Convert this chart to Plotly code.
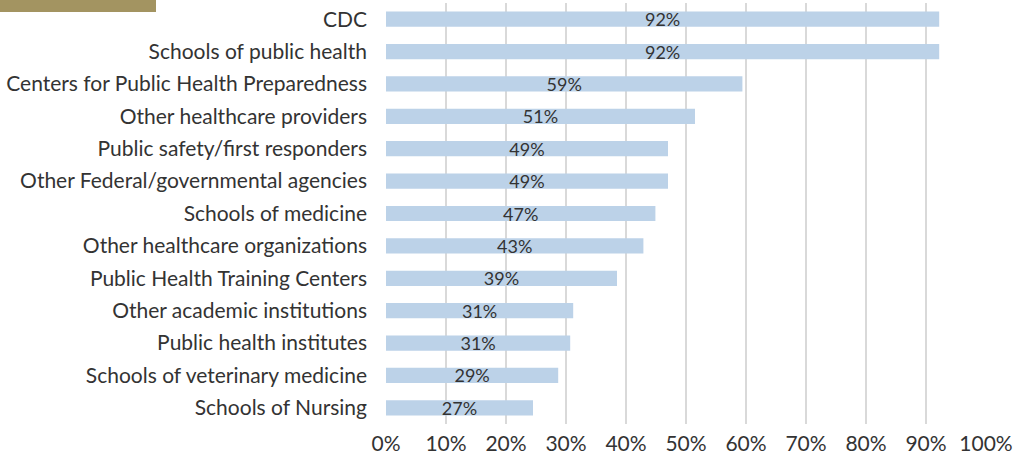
import plotly.graph_objects as go

# categories top to bottom as in the picture
categories = [
    "CDC",
    "Schools of public health",
    "Centers for Public Health Preparedness",
    "Other healthcare providers",
    "Public safety/first responders",
    "Other Federal/governmental agencies",
    "Schools of medicine",
    "Other healthcare organizations",
    "Public Health Training Centers",
    "Other academic institutions",
    "Public health institutes",
    "Schools of veterinary medicine",
    "Schools of Nursing",
]
# bar lengths as drawn (percent)
values = [92.2, 92.2, 59.4, 51.5, 47.0, 47.0, 44.9, 42.9, 38.5, 31.2, 30.7, 28.7, 24.5]
# printed labels
labels = ["92%", "92%", "59%", "51%", "49%", "49%", "47%", "43%", "39%", "31%", "31%", "29%", "27%"]
tick_vals = [0, 10, 20, 30, 40, 50, 60, 70, 80, 90, 100]
tick_text = [f"{v}%" for v in tick_vals]

font_name = "Lato"

fig = go.Figure()
fig.add_trace(go.Bar(
    y=categories,
    x=values,
    orientation="h",
    marker=dict(color="#BCD2E8", line=dict(width=0)),
    text=labels,
    textposition="inside",
    insidetextanchor="middle",
    constraintext="none",
    textfont=dict(family=font_name, size=18, color="#333333"),
    cliponaxis=False,
    hoverinfo="skip",
))

fig.update_layout(
    width=1020,
    height=460,
    margin=dict(l=386, r=34, t=3, b=36, autoexpand=False),
    paper_bgcolor="white",
    plot_bgcolor="white",
    showlegend=False,
    bargap=0.53,
    font=dict(family=font_name, color="#333333"),
    uniformtext=dict(mode=False),
    shapes=[dict(
        type="rect", xref="paper", yref="paper",
        x0=-386 / 600, x1=(156 - 386) / 600,
        y0=1 - 9 / 421, y1=1 + 3 / 421,
        fillcolor="#A39461", line=dict(width=0), layer="above",
    )],
)
fig.update_xaxes(
    range=[0, 100],
    tickvals=tick_vals,
    ticktext=tick_text,
    tickfont=dict(family=font_name, size=21, color="#333333"),
    ticklabelstandoff=5,
    showgrid=True,
    gridcolor="#D9D9D9",
    gridwidth=1.5,
    zeroline=False,
    showline=False,
    ticks="",
    automargin=False,
    fixedrange=True,
)
fig.update_yaxes(
    categoryorder="array",
    categoryarray=categories[::-1],
    tickfont=dict(family=font_name, size=21, color="#333333"),
    ticks="",
    ticklabelstandoff=18,
    showgrid=False,
    showline=False,
    automargin=False,
    fixedrange=True,
)

# drop the default page margin so the figure sits at the window's corner
fig.write_html(
    "out.html",
    config={"displayModeBar": False},
    post_script="document.body.style.margin='0';",
)
